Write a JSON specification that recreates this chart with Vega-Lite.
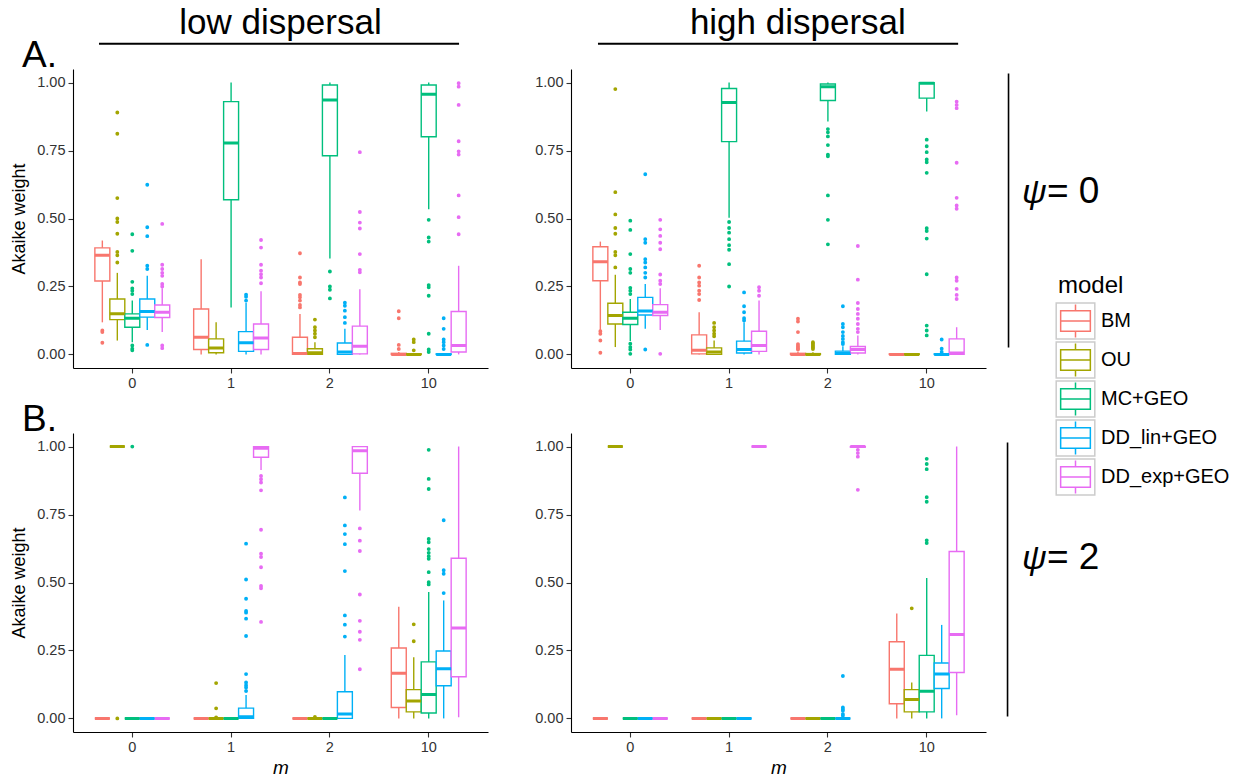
{
"$schema": "https://vega.github.io/schema/vega-lite/v6.json",
"autosize": {"type": "none"},
"padding": {"left": 73, "top": 69, "right": 1172, "bottom": 713},
"background": "white",
"bounds": "flush",
"columns": 2,
"spacing": {"row": 65, "column": 83},
"config": {
  "view": {"stroke": null},
  "font": "Liberation Sans",
  "axis": {"grid": false, "domainColor": "black", "domainWidth": 1.1, "tickColor": "#333333", "tickWidth": 1.1, "tickSize": 5, "labelFont": "Liberation Sans", "labelFontSize": 14.5, "labelColor": "#333333", "labelPadding": 3, "titleFont": "Liberation Sans", "titleFontSize": 18, "titleFontWeight": "normal", "titleColor": "black"},
  "axisX": {"titleFontStyle": "italic", "titleFontSize": 19, "titlePadding": 5, "labelAngle": 0},
  "axisY": {"titlePadding": 8},
  "text": {"font": "Liberation Sans", "color": "black"}
},
"datasets": {
"boxes": [
{"p":"TL","m":"0","model":"BM","lo":0.118,"q1":0.27,"med":0.365,"q3":0.392,"hi":0.419},
{"p":"TL","m":"0","model":"OU","lo":0.051,"q1":0.128,"med":0.15,"q3":0.204,"hi":0.3},
{"p":"TL","m":"0","model":"MC+GEO","lo":0.045,"q1":0.1,"med":0.133,"q3":0.149,"hi":0.198},
{"p":"TL","m":"0","model":"DD_lin+GEO","lo":0.09,"q1":0.137,"med":0.158,"q3":0.204,"hi":0.289},
{"p":"TL","m":"0","model":"DD_exp+GEO","lo":0.082,"q1":0.136,"med":0.155,"q3":0.182,"hi":0.243},
{"p":"TL","m":"1","model":"BM","lo":0,"q1":0.018,"med":0.063,"q3":0.167,"hi":0.35},
{"p":"TL","m":"1","model":"OU","lo":0,"q1":0.006,"med":0.024,"q3":0.057,"hi":0.118},
{"p":"TL","m":"1","model":"MC+GEO","lo":0.173,"q1":0.569,"med":0.778,"q3":0.93,"hi":1.0},
{"p":"TL","m":"1","model":"DD_lin+GEO","lo":0,"q1":0.011,"med":0.043,"q3":0.084,"hi":0.19},
{"p":"TL","m":"1","model":"DD_exp+GEO","lo":0,"q1":0.018,"med":0.06,"q3":0.112,"hi":0.232},
{"p":"TL","m":"2","model":"BM","lo":0,"q1":0,"med":0.003,"q3":0.063,"hi":0.149},
{"p":"TL","m":"2","model":"OU","lo":0,"q1":0,"med":0.006,"q3":0.021,"hi":0.045},
{"p":"TL","m":"2","model":"MC+GEO","lo":0.353,"q1":0.731,"med":0.936,"q3":0.991,"hi":1.0},
{"p":"TL","m":"2","model":"DD_lin+GEO","lo":0,"q1":0,"med":0.009,"q3":0.042,"hi":0.094},
{"p":"TL","m":"2","model":"DD_exp+GEO","lo":0,"q1":0.002,"med":0.03,"q3":0.104,"hi":0.24},
{"p":"TL","m":"10","model":"BM","lo":0,"q1":0,"med":0,"q3":0.004,"hi":0.009},
{"p":"TL","m":"10","model":"OU","lo":0,"q1":0,"med":0,"q3":0.002,"hi":0.004},
{"p":"TL","m":"10","model":"MC+GEO","lo":0.534,"q1":0.801,"med":0.957,"q3":0.991,"hi":1.0},
{"p":"TL","m":"10","model":"DD_lin+GEO","lo":0,"q1":0,"med":0,"q3":0.002,"hi":0.005},
{"p":"TL","m":"10","model":"DD_exp+GEO","lo":0,"q1":0.009,"med":0.033,"q3":0.158,"hi":0.326},
{"p":"TR","m":"0","model":"BM","lo":0.088,"q1":0.271,"med":0.341,"q3":0.396,"hi":0.415},
{"p":"TR","m":"0","model":"OU","lo":0.027,"q1":0.112,"med":0.143,"q3":0.188,"hi":0.293},
{"p":"TR","m":"0","model":"MC+GEO","lo":0.049,"q1":0.11,"med":0.133,"q3":0.155,"hi":0.204},
{"p":"TR","m":"0","model":"DD_lin+GEO","lo":0.094,"q1":0.145,"med":0.16,"q3":0.21,"hi":0.259},
{"p":"TR","m":"0","model":"DD_exp+GEO","lo":0.09,"q1":0.143,"med":0.155,"q3":0.183,"hi":0.243},
{"p":"TR","m":"1","model":"BM","lo":0,"q1":0.002,"med":0.015,"q3":0.072,"hi":0.155},
{"p":"TR","m":"1","model":"OU","lo":0,"q1":0,"med":0.009,"q3":0.024,"hi":0.051},
{"p":"TR","m":"1","model":"MC+GEO","lo":0.503,"q1":0.783,"med":0.927,"q3":0.978,"hi":1.0},
{"p":"TR","m":"1","model":"DD_lin+GEO","lo":0,"q1":0.005,"med":0.018,"q3":0.049,"hi":0.118},
{"p":"TR","m":"1","model":"DD_exp+GEO","lo":0,"q1":0.011,"med":0.033,"q3":0.085,"hi":0.198},
{"p":"TR","m":"2","model":"BM","lo":0,"q1":0,"med":0,"q3":0.004,"hi":0.01},
{"p":"TR","m":"2","model":"OU","lo":0,"q1":0,"med":0,"q3":0.003,"hi":0.008},
{"p":"TR","m":"2","model":"MC+GEO","lo":0.857,"q1":0.934,"med":0.985,"q3":0.995,"hi":1.0},
{"p":"TR","m":"2","model":"DD_lin+GEO","lo":0,"q1":0,"med":0.004,"q3":0.012,"hi":0.03},
{"p":"TR","m":"2","model":"DD_exp+GEO","lo":0,"q1":0.005,"med":0.018,"q3":0.029,"hi":0.07},
{"p":"TR","m":"10","model":"BM","lo":0,"q1":0,"med":0,"q3":0.002,"hi":0.004},
{"p":"TR","m":"10","model":"OU","lo":0,"q1":0,"med":0,"q3":0.002,"hi":0.004},
{"p":"TR","m":"10","model":"MC+GEO","lo":0.894,"q1":0.943,"med":0.998,"q3":1.0,"hi":1.0},
{"p":"TR","m":"10","model":"DD_lin+GEO","lo":0,"q1":0,"med":0,"q3":0.002,"hi":0.004},
{"p":"TR","m":"10","model":"DD_exp+GEO","lo":0,"q1":0,"med":0.005,"q3":0.057,"hi":0.1},
{"p":"BL","m":"0","model":"BM","lo":0,"q1":0,"med":0,"q3":0,"hi":0},
{"p":"BL","m":"0","model":"OU","lo":1,"q1":1,"med":1,"q3":1,"hi":1},
{"p":"BL","m":"0","model":"MC+GEO","lo":0,"q1":0,"med":0,"q3":0,"hi":0},
{"p":"BL","m":"0","model":"DD_lin+GEO","lo":0,"q1":0,"med":0,"q3":0,"hi":0},
{"p":"BL","m":"0","model":"DD_exp+GEO","lo":0,"q1":0,"med":0,"q3":0,"hi":0},
{"p":"BL","m":"1","model":"BM","lo":0,"q1":0,"med":0,"q3":0,"hi":0},
{"p":"BL","m":"1","model":"OU","lo":0,"q1":0,"med":0,"q3":0,"hi":0},
{"p":"BL","m":"1","model":"MC+GEO","lo":0,"q1":0,"med":0,"q3":0,"hi":0},
{"p":"BL","m":"1","model":"DD_lin+GEO","lo":0,"q1":0,"med":0.006,"q3":0.038,"hi":0.086},
{"p":"BL","m":"1","model":"DD_exp+GEO","lo":0.914,"q1":0.961,"med":0.994,"q3":1.0,"hi":1.0},
{"p":"BL","m":"2","model":"BM","lo":0,"q1":0,"med":0,"q3":0,"hi":0},
{"p":"BL","m":"2","model":"OU","lo":0,"q1":0,"med":0,"q3":0,"hi":0},
{"p":"BL","m":"2","model":"MC+GEO","lo":0,"q1":0,"med":0,"q3":0,"hi":0},
{"p":"BL","m":"2","model":"DD_lin+GEO","lo":0,"q1":0,"med":0.016,"q3":0.098,"hi":0.233},
{"p":"BL","m":"2","model":"DD_exp+GEO","lo":0.765,"q1":0.902,"med":0.985,"q3":1.0,"hi":1.0},
{"p":"BL","m":"10","model":"BM","lo":0,"q1":0.04,"med":0.166,"q3":0.259,"hi":0.411},
{"p":"BL","m":"10","model":"OU","lo":0,"q1":0.024,"med":0.064,"q3":0.106,"hi":0.225},
{"p":"BL","m":"10","model":"MC+GEO","lo":0,"q1":0.02,"med":0.088,"q3":0.208,"hi":0.465},
{"p":"BL","m":"10","model":"DD_lin+GEO","lo":0,"q1":0.12,"med":0.183,"q3":0.248,"hi":0.434},
{"p":"BL","m":"10","model":"DD_exp+GEO","lo":0.004,"q1":0.153,"med":0.333,"q3":0.589,"hi":1.0},
{"p":"BR","m":"0","model":"BM","lo":0,"q1":0,"med":0,"q3":0,"hi":0},
{"p":"BR","m":"0","model":"OU","lo":1,"q1":1,"med":1,"q3":1,"hi":1},
{"p":"BR","m":"0","model":"MC+GEO","lo":0,"q1":0,"med":0,"q3":0,"hi":0},
{"p":"BR","m":"0","model":"DD_lin+GEO","lo":0,"q1":0,"med":0,"q3":0,"hi":0},
{"p":"BR","m":"0","model":"DD_exp+GEO","lo":0,"q1":0,"med":0,"q3":0,"hi":0},
{"p":"BR","m":"1","model":"BM","lo":0,"q1":0,"med":0,"q3":0,"hi":0},
{"p":"BR","m":"1","model":"OU","lo":0,"q1":0,"med":0,"q3":0,"hi":0},
{"p":"BR","m":"1","model":"MC+GEO","lo":0,"q1":0,"med":0,"q3":0,"hi":0},
{"p":"BR","m":"1","model":"DD_lin+GEO","lo":0,"q1":0,"med":0,"q3":0,"hi":0},
{"p":"BR","m":"1","model":"DD_exp+GEO","lo":1,"q1":1,"med":1,"q3":1,"hi":1},
{"p":"BR","m":"2","model":"BM","lo":0,"q1":0,"med":0,"q3":0,"hi":0},
{"p":"BR","m":"2","model":"OU","lo":0,"q1":0,"med":0,"q3":0,"hi":0},
{"p":"BR","m":"2","model":"MC+GEO","lo":0,"q1":0,"med":0,"q3":0,"hi":0},
{"p":"BR","m":"2","model":"DD_lin+GEO","lo":0,"q1":0,"med":0,"q3":0,"hi":0.004},
{"p":"BR","m":"2","model":"DD_exp+GEO","lo":0.996,"q1":0.998,"med":1.0,"q3":1.0,"hi":1.0},
{"p":"BR","m":"10","model":"BM","lo":0,"q1":0.054,"med":0.181,"q3":0.282,"hi":0.386},
{"p":"BR","m":"10","model":"OU","lo":0,"q1":0.024,"med":0.07,"q3":0.106,"hi":0.132},
{"p":"BR","m":"10","model":"MC+GEO","lo":0,"q1":0.024,"med":0.1,"q3":0.232,"hi":0.517},
{"p":"BR","m":"10","model":"DD_lin+GEO","lo":0,"q1":0.11,"med":0.163,"q3":0.204,"hi":0.344},
{"p":"BR","m":"10","model":"DD_exp+GEO","lo":0.012,"q1":0.169,"med":0.309,"q3":0.614,"hi":1.0}
],
"outliers": [
{"p":"TL","m":"0","model":"BM","w":0.088},{"p":"TL","m":"0","model":"BM","w":0.082},{"p":"TL","m":"0","model":"BM","w":0.043},
{"p":"TL","m":"0","model":"OU","w":0.89},{"p":"TL","m":"0","model":"OU","w":0.812},{"p":"TL","m":"0","model":"OU","w":0.575},{"p":"TL","m":"0","model":"OU","w":0.5},{"p":"TL","m":"0","model":"OU","w":0.487},{"p":"TL","m":"0","model":"OU","w":0.444},{"p":"TL","m":"0","model":"OU","w":0.377},{"p":"TL","m":"0","model":"OU","w":0.365},{"p":"TL","m":"0","model":"OU","w":0.338},
{"p":"TL","m":"0","model":"MC+GEO","w":0.442},{"p":"TL","m":"0","model":"MC+GEO","w":0.381},{"p":"TL","m":"0","model":"MC+GEO","w":0.267},{"p":"TL","m":"0","model":"MC+GEO","w":0.243},{"p":"TL","m":"0","model":"MC+GEO","w":0.234},{"p":"TL","m":"0","model":"MC+GEO","w":0.222},{"p":"TL","m":"0","model":"MC+GEO","w":0.033},{"p":"TL","m":"0","model":"MC+GEO","w":0.021},{"p":"TL","m":"0","model":"MC+GEO","w":0.015},
{"p":"TL","m":"0","model":"DD_lin+GEO","w":0.624},{"p":"TL","m":"0","model":"DD_lin+GEO","w":0.468},{"p":"TL","m":"0","model":"DD_lin+GEO","w":0.435},{"p":"TL","m":"0","model":"DD_lin+GEO","w":0.326},{"p":"TL","m":"0","model":"DD_lin+GEO","w":0.314},{"p":"TL","m":"0","model":"DD_lin+GEO","w":0.035},
{"p":"TL","m":"0","model":"DD_exp+GEO","w":0.48},{"p":"TL","m":"0","model":"DD_exp+GEO","w":0.33},{"p":"TL","m":"0","model":"DD_exp+GEO","w":0.314},{"p":"TL","m":"0","model":"DD_exp+GEO","w":0.3},{"p":"TL","m":"0","model":"DD_exp+GEO","w":0.289},{"p":"TL","m":"0","model":"DD_exp+GEO","w":0.259},{"p":"TL","m":"0","model":"DD_exp+GEO","w":0.25},{"p":"TL","m":"0","model":"DD_exp+GEO","w":0.033},{"p":"TL","m":"0","model":"DD_exp+GEO","w":0.023},
{"p":"TL","m":"1","model":"DD_lin+GEO","w":0.22},{"p":"TL","m":"1","model":"DD_lin+GEO","w":0.212},{"p":"TL","m":"1","model":"DD_lin+GEO","w":0.198},
{"p":"TL","m":"1","model":"DD_exp+GEO","w":0.421},{"p":"TL","m":"1","model":"DD_exp+GEO","w":0.393},{"p":"TL","m":"1","model":"DD_exp+GEO","w":0.33},{"p":"TL","m":"1","model":"DD_exp+GEO","w":0.308},{"p":"TL","m":"1","model":"DD_exp+GEO","w":0.295},{"p":"TL","m":"1","model":"DD_exp+GEO","w":0.283},{"p":"TL","m":"1","model":"DD_exp+GEO","w":0.262},
{"p":"TL","m":"2","model":"BM","w":0.372},{"p":"TL","m":"2","model":"BM","w":0.283},{"p":"TL","m":"2","model":"BM","w":0.265},{"p":"TL","m":"2","model":"BM","w":0.259},{"p":"TL","m":"2","model":"BM","w":0.219},{"p":"TL","m":"2","model":"BM","w":0.21},{"p":"TL","m":"2","model":"BM","w":0.198},{"p":"TL","m":"2","model":"BM","w":0.182},{"p":"TL","m":"2","model":"BM","w":0.173},
{"p":"TL","m":"2","model":"OU","w":0.128},{"p":"TL","m":"2","model":"OU","w":0.1},{"p":"TL","m":"2","model":"OU","w":0.088},{"p":"TL","m":"2","model":"OU","w":0.076},{"p":"TL","m":"2","model":"OU","w":0.063},
{"p":"TL","m":"2","model":"MC+GEO","w":0.305},{"p":"TL","m":"2","model":"MC+GEO","w":0.25},{"p":"TL","m":"2","model":"MC+GEO","w":0.238},{"p":"TL","m":"2","model":"MC+GEO","w":0.206},
{"p":"TL","m":"2","model":"DD_lin+GEO","w":0.19},{"p":"TL","m":"2","model":"DD_lin+GEO","w":0.179},{"p":"TL","m":"2","model":"DD_lin+GEO","w":0.161},{"p":"TL","m":"2","model":"DD_lin+GEO","w":0.137},{"p":"TL","m":"2","model":"DD_lin+GEO","w":0.116},
{"p":"TL","m":"2","model":"DD_exp+GEO","w":0.744},{"p":"TL","m":"2","model":"DD_exp+GEO","w":0.524},{"p":"TL","m":"2","model":"DD_exp+GEO","w":0.485},{"p":"TL","m":"2","model":"DD_exp+GEO","w":0.463},{"p":"TL","m":"2","model":"DD_exp+GEO","w":0.369},{"p":"TL","m":"2","model":"DD_exp+GEO","w":0.311},{"p":"TL","m":"2","model":"DD_exp+GEO","w":0.302},
{"p":"TL","m":"10","model":"BM","w":0.159},{"p":"TL","m":"10","model":"BM","w":0.133},{"p":"TL","m":"10","model":"BM","w":0.035},{"p":"TL","m":"10","model":"BM","w":0.02},
{"p":"TL","m":"10","model":"OU","w":0.055},{"p":"TL","m":"10","model":"OU","w":0.045},{"p":"TL","m":"10","model":"OU","w":0.015},
{"p":"TL","m":"10","model":"MC+GEO","w":0.495},{"p":"TL","m":"10","model":"MC+GEO","w":0.43},{"p":"TL","m":"10","model":"MC+GEO","w":0.415},{"p":"TL","m":"10","model":"MC+GEO","w":0.255},{"p":"TL","m":"10","model":"MC+GEO","w":0.247},{"p":"TL","m":"10","model":"MC+GEO","w":0.216},{"p":"TL","m":"10","model":"MC+GEO","w":0.076},{"p":"TL","m":"10","model":"MC+GEO","w":0.018},{"p":"TL","m":"10","model":"MC+GEO","w":0.009},
{"p":"TL","m":"10","model":"DD_lin+GEO","w":0.133},{"p":"TL","m":"10","model":"DD_lin+GEO","w":0.094},{"p":"TL","m":"10","model":"DD_lin+GEO","w":0.055},{"p":"TL","m":"10","model":"DD_lin+GEO","w":0.045},{"p":"TL","m":"10","model":"DD_lin+GEO","w":0.033},{"p":"TL","m":"10","model":"DD_lin+GEO","w":0.02},
{"p":"TL","m":"10","model":"DD_exp+GEO","w":0.998},{"p":"TL","m":"10","model":"DD_exp+GEO","w":0.985},{"p":"TL","m":"10","model":"DD_exp+GEO","w":0.918},{"p":"TL","m":"10","model":"DD_exp+GEO","w":0.784},{"p":"TL","m":"10","model":"DD_exp+GEO","w":0.747},{"p":"TL","m":"10","model":"DD_exp+GEO","w":0.735},{"p":"TL","m":"10","model":"DD_exp+GEO","w":0.585},{"p":"TL","m":"10","model":"DD_exp+GEO","w":0.505},{"p":"TL","m":"10","model":"DD_exp+GEO","w":0.442},
{"p":"TR","m":"0","model":"BM","w":0.085},{"p":"TR","m":"0","model":"BM","w":0.076},{"p":"TR","m":"0","model":"BM","w":0.051},{"p":"TR","m":"0","model":"BM","w":0.006},
{"p":"TR","m":"0","model":"OU","w":0.976},{"p":"TR","m":"0","model":"OU","w":0.597},{"p":"TR","m":"0","model":"OU","w":0.515},{"p":"TR","m":"0","model":"OU","w":0.465},{"p":"TR","m":"0","model":"OU","w":0.444},{"p":"TR","m":"0","model":"OU","w":0.377},{"p":"TR","m":"0","model":"OU","w":0.365},{"p":"TR","m":"0","model":"OU","w":0.32},
{"p":"TR","m":"0","model":"MC+GEO","w":0.492},{"p":"TR","m":"0","model":"MC+GEO","w":0.458},{"p":"TR","m":"0","model":"MC+GEO","w":0.369},{"p":"TR","m":"0","model":"MC+GEO","w":0.314},{"p":"TR","m":"0","model":"MC+GEO","w":0.3},{"p":"TR","m":"0","model":"MC+GEO","w":0.245},{"p":"TR","m":"0","model":"MC+GEO","w":0.234},{"p":"TR","m":"0","model":"MC+GEO","w":0.222},{"p":"TR","m":"0","model":"MC+GEO","w":0.039},{"p":"TR","m":"0","model":"MC+GEO","w":0.027},{"p":"TR","m":"0","model":"MC+GEO","w":0.018},{"p":"TR","m":"0","model":"MC+GEO","w":0.002},
{"p":"TR","m":"0","model":"DD_lin+GEO","w":0.663},{"p":"TR","m":"0","model":"DD_lin+GEO","w":0.424},{"p":"TR","m":"0","model":"DD_lin+GEO","w":0.411},{"p":"TR","m":"0","model":"DD_lin+GEO","w":0.35},{"p":"TR","m":"0","model":"DD_lin+GEO","w":0.338},{"p":"TR","m":"0","model":"DD_lin+GEO","w":0.32},{"p":"TR","m":"0","model":"DD_lin+GEO","w":0.3},{"p":"TR","m":"0","model":"DD_lin+GEO","w":0.283},{"p":"TR","m":"0","model":"DD_lin+GEO","w":0.018},
{"p":"TR","m":"0","model":"DD_exp+GEO","w":0.495},{"p":"TR","m":"0","model":"DD_exp+GEO","w":0.46},{"p":"TR","m":"0","model":"DD_exp+GEO","w":0.436},{"p":"TR","m":"0","model":"DD_exp+GEO","w":0.411},{"p":"TR","m":"0","model":"DD_exp+GEO","w":0.387},{"p":"TR","m":"0","model":"DD_exp+GEO","w":0.294},{"p":"TR","m":"0","model":"DD_exp+GEO","w":0.271},{"p":"TR","m":"0","model":"DD_exp+GEO","w":0.259},{"p":"TR","m":"0","model":"DD_exp+GEO","w":0.002},
{"p":"TR","m":"1","model":"BM","w":0.326},{"p":"TR","m":"1","model":"BM","w":0.283},{"p":"TR","m":"1","model":"BM","w":0.265},{"p":"TR","m":"1","model":"BM","w":0.253},{"p":"TR","m":"1","model":"BM","w":0.234},{"p":"TR","m":"1","model":"BM","w":0.222},{"p":"TR","m":"1","model":"BM","w":0.2},
{"p":"TR","m":"1","model":"OU","w":0.116},{"p":"TR","m":"1","model":"OU","w":0.1},{"p":"TR","m":"1","model":"OU","w":0.088},{"p":"TR","m":"1","model":"OU","w":0.076},{"p":"TR","m":"1","model":"OU","w":0.067},
{"p":"TR","m":"1","model":"MC+GEO","w":0.487},{"p":"TR","m":"1","model":"MC+GEO","w":0.465},{"p":"TR","m":"1","model":"MC+GEO","w":0.448},{"p":"TR","m":"1","model":"MC+GEO","w":0.424},{"p":"TR","m":"1","model":"MC+GEO","w":0.402},{"p":"TR","m":"1","model":"MC+GEO","w":0.385},{"p":"TR","m":"1","model":"MC+GEO","w":0.332},{"p":"TR","m":"1","model":"MC+GEO","w":0.25},
{"p":"TR","m":"1","model":"DD_lin+GEO","w":0.228},{"p":"TR","m":"1","model":"DD_lin+GEO","w":0.177},{"p":"TR","m":"1","model":"DD_lin+GEO","w":0.155},{"p":"TR","m":"1","model":"DD_lin+GEO","w":0.133},{"p":"TR","m":"1","model":"DD_lin+GEO","w":0.125},
{"p":"TR","m":"1","model":"DD_exp+GEO","w":0.247},{"p":"TR","m":"1","model":"DD_exp+GEO","w":0.234},{"p":"TR","m":"1","model":"DD_exp+GEO","w":0.216},
{"p":"TR","m":"2","model":"BM","w":0.131},{"p":"TR","m":"2","model":"BM","w":0.121},{"p":"TR","m":"2","model":"BM","w":0.082},{"p":"TR","m":"2","model":"BM","w":0.038},{"p":"TR","m":"2","model":"BM","w":0.032},{"p":"TR","m":"2","model":"BM","w":0.027},{"p":"TR","m":"2","model":"BM","w":0.022},{"p":"TR","m":"2","model":"BM","w":0.018},
{"p":"TR","m":"2","model":"OU","w":0.045},{"p":"TR","m":"2","model":"OU","w":0.04},{"p":"TR","m":"2","model":"OU","w":0.035},{"p":"TR","m":"2","model":"OU","w":0.03},{"p":"TR","m":"2","model":"OU","w":0.025},{"p":"TR","m":"2","model":"OU","w":0.02},
{"p":"TR","m":"2","model":"MC+GEO","w":0.829},{"p":"TR","m":"2","model":"MC+GEO","w":0.817},{"p":"TR","m":"2","model":"MC+GEO","w":0.802},{"p":"TR","m":"2","model":"MC+GEO","w":0.77},{"p":"TR","m":"2","model":"MC+GEO","w":0.735},{"p":"TR","m":"2","model":"MC+GEO","w":0.729},{"p":"TR","m":"2","model":"MC+GEO","w":0.585},{"p":"TR","m":"2","model":"MC+GEO","w":0.495},{"p":"TR","m":"2","model":"MC+GEO","w":0.405},
{"p":"TR","m":"2","model":"DD_lin+GEO","w":0.177},{"p":"TR","m":"2","model":"DD_lin+GEO","w":0.112},{"p":"TR","m":"2","model":"DD_lin+GEO","w":0.1},{"p":"TR","m":"2","model":"DD_lin+GEO","w":0.082},{"p":"TR","m":"2","model":"DD_lin+GEO","w":0.068},{"p":"TR","m":"2","model":"DD_lin+GEO","w":0.057},{"p":"TR","m":"2","model":"DD_lin+GEO","w":0.045},{"p":"TR","m":"2","model":"DD_lin+GEO","w":0.038},
{"p":"TR","m":"2","model":"DD_exp+GEO","w":0.399},{"p":"TR","m":"2","model":"DD_exp+GEO","w":0.275},{"p":"TR","m":"2","model":"DD_exp+GEO","w":0.189},{"p":"TR","m":"2","model":"DD_exp+GEO","w":0.167},{"p":"TR","m":"2","model":"DD_exp+GEO","w":0.149},{"p":"TR","m":"2","model":"DD_exp+GEO","w":0.131},{"p":"TR","m":"2","model":"DD_exp+GEO","w":0.112},{"p":"TR","m":"2","model":"DD_exp+GEO","w":0.094},{"p":"TR","m":"2","model":"DD_exp+GEO","w":0.082},
{"p":"TR","m":"10","model":"MC+GEO","w":0.79},{"p":"TR","m":"10","model":"MC+GEO","w":0.766},{"p":"TR","m":"10","model":"MC+GEO","w":0.744},{"p":"TR","m":"10","model":"MC+GEO","w":0.717},{"p":"TR","m":"10","model":"MC+GEO","w":0.707},{"p":"TR","m":"10","model":"MC+GEO","w":0.668},{"p":"TR","m":"10","model":"MC+GEO","w":0.464},{"p":"TR","m":"10","model":"MC+GEO","w":0.454},{"p":"TR","m":"10","model":"MC+GEO","w":0.426},{"p":"TR","m":"10","model":"MC+GEO","w":0.295},{"p":"TR","m":"10","model":"MC+GEO","w":0.106},{"p":"TR","m":"10","model":"MC+GEO","w":0.088},{"p":"TR","m":"10","model":"MC+GEO","w":0.07},
{"p":"TR","m":"10","model":"DD_lin+GEO","w":0.055},{"p":"TR","m":"10","model":"DD_lin+GEO","w":0.021},{"p":"TR","m":"10","model":"DD_lin+GEO","w":0.009},
{"p":"TR","m":"10","model":"DD_exp+GEO","w":0.93},{"p":"TR","m":"10","model":"DD_exp+GEO","w":0.918},{"p":"TR","m":"10","model":"DD_exp+GEO","w":0.906},{"p":"TR","m":"10","model":"DD_exp+GEO","w":0.705},{"p":"TR","m":"10","model":"DD_exp+GEO","w":0.576},{"p":"TR","m":"10","model":"DD_exp+GEO","w":0.548},{"p":"TR","m":"10","model":"DD_exp+GEO","w":0.536},{"p":"TR","m":"10","model":"DD_exp+GEO","w":0.283},{"p":"TR","m":"10","model":"DD_exp+GEO","w":0.271},{"p":"TR","m":"10","model":"DD_exp+GEO","w":0.241},{"p":"TR","m":"10","model":"DD_exp+GEO","w":0.219},{"p":"TR","m":"10","model":"DD_exp+GEO","w":0.204},
{"p":"BL","m":"0","model":"OU","w":0},
{"p":"BL","m":"0","model":"MC+GEO","w":1},
{"p":"BL","m":"1","model":"OU","w":0.13},{"p":"BL","m":"1","model":"OU","w":0.037},{"p":"BL","m":"1","model":"OU","w":0.004},
{"p":"BL","m":"1","model":"DD_lin+GEO","w":0.643},{"p":"BL","m":"1","model":"DD_lin+GEO","w":0.511},{"p":"BL","m":"1","model":"DD_lin+GEO","w":0.44},{"p":"BL","m":"1","model":"DD_lin+GEO","w":0.395},{"p":"BL","m":"1","model":"DD_lin+GEO","w":0.389},{"p":"BL","m":"1","model":"DD_lin+GEO","w":0.367},{"p":"BL","m":"1","model":"DD_lin+GEO","w":0.303},{"p":"BL","m":"1","model":"DD_lin+GEO","w":0.163},{"p":"BL","m":"1","model":"DD_lin+GEO","w":0.132},{"p":"BL","m":"1","model":"DD_lin+GEO","w":0.122},{"p":"BL","m":"1","model":"DD_lin+GEO","w":0.114},{"p":"BL","m":"1","model":"DD_lin+GEO","w":0.101},
{"p":"BL","m":"1","model":"DD_exp+GEO","w":0.892},{"p":"BL","m":"1","model":"DD_exp+GEO","w":0.88},{"p":"BL","m":"1","model":"DD_exp+GEO","w":0.868},{"p":"BL","m":"1","model":"DD_exp+GEO","w":0.839},{"p":"BL","m":"1","model":"DD_exp+GEO","w":0.694},{"p":"BL","m":"1","model":"DD_exp+GEO","w":0.606},{"p":"BL","m":"1","model":"DD_exp+GEO","w":0.594},{"p":"BL","m":"1","model":"DD_exp+GEO","w":0.556},{"p":"BL","m":"1","model":"DD_exp+GEO","w":0.487},{"p":"BL","m":"1","model":"DD_exp+GEO","w":0.479},{"p":"BL","m":"1","model":"DD_exp+GEO","w":0.355},
{"p":"BL","m":"2","model":"OU","w":0.005},
{"p":"BL","m":"2","model":"DD_lin+GEO","w":0.813},{"p":"BL","m":"2","model":"DD_lin+GEO","w":0.71},{"p":"BL","m":"2","model":"DD_lin+GEO","w":0.678},{"p":"BL","m":"2","model":"DD_lin+GEO","w":0.641},{"p":"BL","m":"2","model":"DD_lin+GEO","w":0.542},{"p":"BL","m":"2","model":"DD_lin+GEO","w":0.379},{"p":"BL","m":"2","model":"DD_lin+GEO","w":0.345},{"p":"BL","m":"2","model":"DD_lin+GEO","w":0.301},
{"p":"BL","m":"2","model":"DD_exp+GEO","w":0.699},{"p":"BL","m":"2","model":"DD_exp+GEO","w":0.654},{"p":"BL","m":"2","model":"DD_exp+GEO","w":0.616},{"p":"BL","m":"2","model":"DD_exp+GEO","w":0.456},{"p":"BL","m":"2","model":"DD_exp+GEO","w":0.359},{"p":"BL","m":"2","model":"DD_exp+GEO","w":0.319},{"p":"BL","m":"2","model":"DD_exp+GEO","w":0.289},{"p":"BL","m":"2","model":"DD_exp+GEO","w":0.181},
{"p":"BL","m":"10","model":"OU","w":0.346},{"p":"BL","m":"10","model":"OU","w":0.284},
{"p":"BL","m":"10","model":"MC+GEO","w":0.988},{"p":"BL","m":"10","model":"MC+GEO","w":0.881},{"p":"BL","m":"10","model":"MC+GEO","w":0.844},{"p":"BL","m":"10","model":"MC+GEO","w":0.66},{"p":"BL","m":"10","model":"MC+GEO","w":0.648},{"p":"BL","m":"10","model":"MC+GEO","w":0.623},{"p":"BL","m":"10","model":"MC+GEO","w":0.609},{"p":"BL","m":"10","model":"MC+GEO","w":0.597},{"p":"BL","m":"10","model":"MC+GEO","w":0.587},{"p":"BL","m":"10","model":"MC+GEO","w":0.538},{"p":"BL","m":"10","model":"MC+GEO","w":0.501},{"p":"BL","m":"10","model":"MC+GEO","w":0.493},
{"p":"BL","m":"10","model":"DD_lin+GEO","w":0.729},{"p":"BL","m":"10","model":"DD_lin+GEO","w":0.545},{"p":"BL","m":"10","model":"DD_lin+GEO","w":0.532},{"p":"BL","m":"10","model":"DD_lin+GEO","w":0.461},
{"p":"BR","m":"2","model":"DD_lin+GEO","w":0.156},{"p":"BR","m":"2","model":"DD_lin+GEO","w":0.04},{"p":"BR","m":"2","model":"DD_lin+GEO","w":0.034},{"p":"BR","m":"2","model":"DD_lin+GEO","w":0.028},{"p":"BR","m":"2","model":"DD_lin+GEO","w":0.016},{"p":"BR","m":"2","model":"DD_lin+GEO","w":0.01},
{"p":"BR","m":"2","model":"DD_exp+GEO","w":0.988},{"p":"BR","m":"2","model":"DD_exp+GEO","w":0.976},{"p":"BR","m":"2","model":"DD_exp+GEO","w":0.963},{"p":"BR","m":"2","model":"DD_exp+GEO","w":0.841},
{"p":"BR","m":"10","model":"OU","w":0.405},
{"p":"BR","m":"10","model":"MC+GEO","w":0.955},{"p":"BR","m":"10","model":"MC+GEO","w":0.936},{"p":"BR","m":"10","model":"MC+GEO","w":0.917},{"p":"BR","m":"10","model":"MC+GEO","w":0.814},{"p":"BR","m":"10","model":"MC+GEO","w":0.797},{"p":"BR","m":"10","model":"MC+GEO","w":0.655},{"p":"BR","m":"10","model":"MC+GEO","w":0.645}
]
},
"concat": [
{
 "width": 415, "height": 299,
 "layer": [
  {"data": {"name": "outliers"}, "transform": [{"filter": "datum.p === 'TL'"}],
   "mark": {"type": "point", "filled": false, "size": 3.5, "strokeWidth": 2, "opacity": 1},
   "encoding": {
    "x": {"field": "m", "type": "nominal", "scale": {"domain": ["0","1","2","10"], "paddingInner": 0, "paddingOuter": 0.1}, "axis": {"title": null}},
    "xOffset": {"field": "model", "type": "nominal", "scale": {"domain": ["BM","OU","MC+GEO","DD_lin+GEO","DD_exp+GEO"], "paddingInner": 0, "paddingOuter": 0.8}},
    "y": {"field": "w", "type": "quantitative", "scale": {"domain": [-0.05, 1.05], "nice": false, "zero": false}, "axis": {"title": "Akaike weight", "values": [0, 0.25, 0.5, 0.75, 1], "format": ".2f"}},
    "stroke": {"field": "model", "type": "nominal", "scale": {"domain": ["BM","OU","MC+GEO","DD_lin+GEO","DD_exp+GEO"], "range": ["#F8766D","#A3A500","#00BF7D","#00B0F6","#E76BF3"]}}}},
  {"data": {"name": "boxes"}, "transform": [{"filter": "datum.p === 'TL'"}],
   "mark": {"type": "rule", "strokeWidth": 1.4},
   "encoding": {
    "x": {"field": "m", "type": "nominal", "scale": {"domain": ["0","1","2","10"], "paddingInner": 0, "paddingOuter": 0.1}},
    "xOffset": {"field": "model", "type": "nominal", "scale": {"domain": ["BM","OU","MC+GEO","DD_lin+GEO","DD_exp+GEO"], "paddingInner": 0, "paddingOuter": 0.8}},
    "y": {"field": "lo", "type": "quantitative", "scale": {"domain": [-0.05, 1.05], "nice": false, "zero": false}},
    "y2": {"field": "hi"},
    "stroke": {"field": "model", "type": "nominal", "scale": {"domain": ["BM","OU","MC+GEO","DD_lin+GEO","DD_exp+GEO"], "range": ["#F8766D","#A3A500","#00BF7D","#00B0F6","#E76BF3"]}},
    "opacity": {"field": "model", "type": "ordinal", "sort": ["BM","OU","MC+GEO","DD_lin+GEO","DD_exp+GEO"], "scale": {"type": "point", "range": [1, 1]},
     "legend": {"title": null, "orient": "none", "legendX": 985, "legendY": 234.5, "padding": 0, "symbolType": "M-1.17,-1.097H1.17V1.097H-1.17Z", "symbolSize": 1089, "symbolStrokeColor": "#CCCCCC", "symbolStrokeWidth": 1.5, "symbolFillColor": "transparent", "symbolOpacity": 1, "labelExpr": "''", "rowPadding": -5.3}}}},
  {"data": {"name": "boxes"}, "transform": [{"filter": "datum.p === 'TL'"}],
   "mark": {"type": "bar", "fill": "white", "strokeWidth": 1.4},
   "encoding": {
    "x": {"field": "m", "type": "nominal", "scale": {"domain": ["0","1","2","10"], "paddingInner": 0, "paddingOuter": 0.1}},
    "xOffset": {"field": "model", "type": "nominal", "scale": {"domain": ["BM","OU","MC+GEO","DD_lin+GEO","DD_exp+GEO"], "paddingInner": 0, "paddingOuter": 0.8}},
    "y": {"field": "q1", "type": "quantitative", "scale": {"domain": [-0.05, 1.05], "nice": false, "zero": false}},
    "y2": {"field": "q3"},
    "stroke": {"field": "model", "type": "nominal", "scale": {"domain": ["BM","OU","MC+GEO","DD_lin+GEO","DD_exp+GEO"], "range": ["#F8766D","#A3A500","#00BF7D","#00B0F6","#E76BF3"]},
     "legend": {"title": "model", "orient": "none", "legendX": 985, "legendY": 204.5, "padding": 0, "titleFont": "Liberation Sans", "titleFontSize": 24, "titleFontWeight": "normal", "titleColor": "black", "titlePadding": 6, "labelFont": "Liberation Sans", "labelFontSize": 20, "labelColor": "black", "labelOffset": 8, "symbolType": "M-1.17,-1.097M1.17,1.097M-0.9,-0.62H0.9V0.62H-0.9Z M-0.9,0H0.9 M0,-0.62V-1 M0,0.62V1", "symbolSize": 1089, "symbolStrokeWidth": 1.5, "symbolFillColor": "white", "rowPadding": -5.3}}}},
  {"data": {"name": "boxes"}, "transform": [{"filter": "datum.p === 'TL'"}],
   "mark": {"type": "bar", "fillOpacity": 0, "strokeWidth": 3},
   "encoding": {
    "x": {"field": "m", "type": "nominal", "scale": {"domain": ["0","1","2","10"], "paddingInner": 0, "paddingOuter": 0.1}},
    "xOffset": {"field": "model", "type": "nominal", "scale": {"domain": ["BM","OU","MC+GEO","DD_lin+GEO","DD_exp+GEO"], "paddingInner": 0, "paddingOuter": 0.8}},
    "y": {"field": "med", "type": "quantitative", "scale": {"domain": [-0.05, 1.05], "nice": false, "zero": false}},
    "y2": {"field": "med"},
    "stroke": {"field": "model", "type": "nominal", "scale": {"domain": ["BM","OU","MC+GEO","DD_lin+GEO","DD_exp+GEO"], "range": ["#F8766D","#A3A500","#00BF7D","#00B0F6","#E76BF3"]}}}},
  {"data": {"values": [{"label": "low dispersal"}]},
   "mark": {"type": "text", "fontSize": 35, "align": "center", "baseline": "alphabetic", "color": "black"},
   "encoding": {
    "x": {"datum": "1", "type": "nominal", "bandPosition": 1, "scale": {"domain": ["0","1","2","10"], "paddingInner": 0, "paddingOuter": 0.1}},
    "y": {"datum": 1.177, "type": "quantitative", "scale": {"domain": [-0.05, 1.05], "nice": false, "zero": false}},
    "text": {"field": "label"}}},
  {"data": {"values": [{"label": "low dispersal"}]},
   "mark": {"type": "rule", "strokeWidth": 2, "color": "black"},
   "encoding": {
    "x": {"datum": "0", "type": "nominal", "bandPosition": 0.163, "scale": {"domain": ["0","1","2","10"], "paddingInner": 0, "paddingOuter": 0.1}},
    "x2": {"datum": "10", "bandPosition": 0.807},
    "y": {"datum": 1.143, "type": "quantitative", "scale": {"domain": [-0.05, 1.05], "nice": false, "zero": false}}}},
  {"data": {"values": [{"label": "A."}]},
   "mark": {"type": "text", "fontSize": 37, "align": "left", "baseline": "alphabetic", "color": "black"},
   "encoding": {
    "x": {"datum": "0", "type": "nominal", "bandPosition": -0.616, "scale": {"domain": ["0","1","2","10"], "paddingInner": 0, "paddingOuter": 0.1}},
    "y": {"datum": 1.058, "type": "quantitative", "scale": {"domain": [-0.05, 1.05], "nice": false, "zero": false}},
    "text": {"field": "label"}}}
 ]
},
{
 "width": 415, "height": 299,
 "layer": [
  {"data": {"name": "outliers"}, "transform": [{"filter": "datum.p === 'TR'"}],
   "mark": {"type": "point", "filled": false, "size": 3.5, "strokeWidth": 2, "opacity": 1},
   "encoding": {
    "x": {"field": "m", "type": "nominal", "scale": {"domain": ["0","1","2","10"], "paddingInner": 0, "paddingOuter": 0.1}, "axis": {"title": null}},
    "xOffset": {"field": "model", "type": "nominal", "scale": {"domain": ["BM","OU","MC+GEO","DD_lin+GEO","DD_exp+GEO"], "paddingInner": 0, "paddingOuter": 0.8}},
    "y": {"field": "w", "type": "quantitative", "scale": {"domain": [-0.05, 1.05], "nice": false, "zero": false}, "axis": {"title": null, "values": [0, 0.25, 0.5, 0.75, 1], "format": ".2f"}},
    "stroke": {"field": "model", "type": "nominal", "scale": {"domain": ["BM","OU","MC+GEO","DD_lin+GEO","DD_exp+GEO"], "range": ["#F8766D","#A3A500","#00BF7D","#00B0F6","#E76BF3"]}}}},
  {"data": {"name": "boxes"}, "transform": [{"filter": "datum.p === 'TR'"}],
   "mark": {"type": "rule", "strokeWidth": 1.4},
   "encoding": {
    "x": {"field": "m", "type": "nominal", "scale": {"domain": ["0","1","2","10"], "paddingInner": 0, "paddingOuter": 0.1}},
    "xOffset": {"field": "model", "type": "nominal", "scale": {"domain": ["BM","OU","MC+GEO","DD_lin+GEO","DD_exp+GEO"], "paddingInner": 0, "paddingOuter": 0.8}},
    "y": {"field": "lo", "type": "quantitative", "scale": {"domain": [-0.05, 1.05], "nice": false, "zero": false}},
    "y2": {"field": "hi"},
    "stroke": {"field": "model", "type": "nominal", "scale": {"domain": ["BM","OU","MC+GEO","DD_lin+GEO","DD_exp+GEO"], "range": ["#F8766D","#A3A500","#00BF7D","#00B0F6","#E76BF3"]}}}},
  {"data": {"name": "boxes"}, "transform": [{"filter": "datum.p === 'TR'"}],
   "mark": {"type": "bar", "fill": "white", "strokeWidth": 1.4},
   "encoding": {
    "x": {"field": "m", "type": "nominal", "scale": {"domain": ["0","1","2","10"], "paddingInner": 0, "paddingOuter": 0.1}},
    "xOffset": {"field": "model", "type": "nominal", "scale": {"domain": ["BM","OU","MC+GEO","DD_lin+GEO","DD_exp+GEO"], "paddingInner": 0, "paddingOuter": 0.8}},
    "y": {"field": "q1", "type": "quantitative", "scale": {"domain": [-0.05, 1.05], "nice": false, "zero": false}},
    "y2": {"field": "q3"},
    "stroke": {"field": "model", "type": "nominal", "scale": {"domain": ["BM","OU","MC+GEO","DD_lin+GEO","DD_exp+GEO"], "range": ["#F8766D","#A3A500","#00BF7D","#00B0F6","#E76BF3"]},
     "legend": {"title": "model", "orient": "none", "legendX": 985, "legendY": 204.5, "padding": 0, "titleFont": "Liberation Sans", "titleFontSize": 24, "titleFontWeight": "normal", "titleColor": "black", "titlePadding": 6, "labelFont": "Liberation Sans", "labelFontSize": 20, "labelColor": "black", "labelOffset": 8, "symbolType": "M-1.17,-1.097M1.17,1.097M-0.9,-0.62H0.9V0.62H-0.9Z M-0.9,0H0.9 M0,-0.62V-1 M0,0.62V1", "symbolSize": 1089, "symbolStrokeWidth": 1.5, "symbolFillColor": "white", "rowPadding": -5.3}}}},
  {"data": {"name": "boxes"}, "transform": [{"filter": "datum.p === 'TR'"}],
   "mark": {"type": "bar", "fillOpacity": 0, "strokeWidth": 3},
   "encoding": {
    "x": {"field": "m", "type": "nominal", "scale": {"domain": ["0","1","2","10"], "paddingInner": 0, "paddingOuter": 0.1}},
    "xOffset": {"field": "model", "type": "nominal", "scale": {"domain": ["BM","OU","MC+GEO","DD_lin+GEO","DD_exp+GEO"], "paddingInner": 0, "paddingOuter": 0.8}},
    "y": {"field": "med", "type": "quantitative", "scale": {"domain": [-0.05, 1.05], "nice": false, "zero": false}},
    "y2": {"field": "med"},
    "stroke": {"field": "model", "type": "nominal", "scale": {"domain": ["BM","OU","MC+GEO","DD_lin+GEO","DD_exp+GEO"], "range": ["#F8766D","#A3A500","#00BF7D","#00B0F6","#E76BF3"]}}}},
  {"data": {"values": [{"label": "high dispersal"}]},
   "mark": {"type": "text", "fontSize": 35, "align": "center", "baseline": "alphabetic", "color": "black"},
   "encoding": {
    "x": {"datum": "1", "type": "nominal", "bandPosition": 1.196, "scale": {"domain": ["0","1","2","10"], "paddingInner": 0, "paddingOuter": 0.1}},
    "y": {"datum": 1.177, "type": "quantitative", "scale": {"domain": [-0.05, 1.05], "nice": false, "zero": false}},
    "text": {"field": "label"}}},
  {"data": {"values": [{"label": "high dispersal"}]},
   "mark": {"type": "rule", "strokeWidth": 2, "color": "black"},
   "encoding": {
    "x": {"datum": "0", "type": "nominal", "bandPosition": 0.173, "scale": {"domain": ["0","1","2","10"], "paddingInner": 0, "paddingOuter": 0.1}},
    "x2": {"datum": "10", "bandPosition": 0.818},
    "y": {"datum": 1.143, "type": "quantitative", "scale": {"domain": [-0.05, 1.05], "nice": false, "zero": false}}}},
  {"data": {"values": [{"label": "ψ= 0"}]},
   "mark": {"type": "rule", "strokeWidth": 1.6, "color": "black"},
   "encoding": {
    "x": {"datum": "10", "type": "nominal", "bandPosition": 1.328, "scale": {"domain": ["0","1","2","10"], "paddingInner": 0, "paddingOuter": 0.1}},
    "y": {"datum": 1.033, "type": "quantitative", "scale": {"domain": [-0.05, 1.05], "nice": false, "zero": false}},
    "y2": {"datum": 0.025}}},
  {"data": {"values": [{"label": "ψ"}]},
   "mark": {"type": "text", "fontSize": 34, "fontStyle": "italic", "align": "left", "baseline": "alphabetic", "color": "black"},
   "encoding": {
    "x": {"datum": "10", "type": "nominal", "bandPosition": 1.464, "scale": {"domain": ["0","1","2","10"], "paddingInner": 0, "paddingOuter": 0.1}},
    "y": {"datum": 0.558, "type": "quantitative", "scale": {"domain": [-0.05, 1.05], "nice": false, "zero": false}},
    "text": {"field": "label"}}},
  {"data": {"values": [{"label": "= 0"}]},
   "mark": {"type": "text", "fontSize": 37, "align": "left", "baseline": "alphabetic", "color": "black", "dx": 25},
   "encoding": {
    "x": {"datum": "10", "type": "nominal", "bandPosition": 1.464, "scale": {"domain": ["0","1","2","10"], "paddingInner": 0, "paddingOuter": 0.1}},
    "y": {"datum": 0.558, "type": "quantitative", "scale": {"domain": [-0.05, 1.05], "nice": false, "zero": false}},
    "text": {"field": "label"}}}
 ]
},
{
 "width": 415, "height": 299,
 "layer": [
  {"data": {"name": "outliers"}, "transform": [{"filter": "datum.p === 'BL'"}],
   "mark": {"type": "point", "filled": false, "size": 3.5, "strokeWidth": 2, "opacity": 1},
   "encoding": {
    "x": {"field": "m", "type": "nominal", "scale": {"domain": ["0","1","2","10"], "paddingInner": 0, "paddingOuter": 0.1}, "axis": {"title": "m"}},
    "xOffset": {"field": "model", "type": "nominal", "scale": {"domain": ["BM","OU","MC+GEO","DD_lin+GEO","DD_exp+GEO"], "paddingInner": 0, "paddingOuter": 0.8}},
    "y": {"field": "w", "type": "quantitative", "scale": {"domain": [-0.05, 1.05], "nice": false, "zero": false}, "axis": {"title": "Akaike weight", "values": [0, 0.25, 0.5, 0.75, 1], "format": ".2f"}},
    "stroke": {"field": "model", "type": "nominal", "scale": {"domain": ["BM","OU","MC+GEO","DD_lin+GEO","DD_exp+GEO"], "range": ["#F8766D","#A3A500","#00BF7D","#00B0F6","#E76BF3"]}}}},
  {"data": {"name": "boxes"}, "transform": [{"filter": "datum.p === 'BL'"}],
   "mark": {"type": "rule", "strokeWidth": 1.4},
   "encoding": {
    "x": {"field": "m", "type": "nominal", "scale": {"domain": ["0","1","2","10"], "paddingInner": 0, "paddingOuter": 0.1}},
    "xOffset": {"field": "model", "type": "nominal", "scale": {"domain": ["BM","OU","MC+GEO","DD_lin+GEO","DD_exp+GEO"], "paddingInner": 0, "paddingOuter": 0.8}},
    "y": {"field": "lo", "type": "quantitative", "scale": {"domain": [-0.05, 1.05], "nice": false, "zero": false}},
    "y2": {"field": "hi"},
    "stroke": {"field": "model", "type": "nominal", "scale": {"domain": ["BM","OU","MC+GEO","DD_lin+GEO","DD_exp+GEO"], "range": ["#F8766D","#A3A500","#00BF7D","#00B0F6","#E76BF3"]}}}},
  {"data": {"name": "boxes"}, "transform": [{"filter": "datum.p === 'BL'"}],
   "mark": {"type": "bar", "fill": "white", "strokeWidth": 1.4},
   "encoding": {
    "x": {"field": "m", "type": "nominal", "scale": {"domain": ["0","1","2","10"], "paddingInner": 0, "paddingOuter": 0.1}},
    "xOffset": {"field": "model", "type": "nominal", "scale": {"domain": ["BM","OU","MC+GEO","DD_lin+GEO","DD_exp+GEO"], "paddingInner": 0, "paddingOuter": 0.8}},
    "y": {"field": "q1", "type": "quantitative", "scale": {"domain": [-0.05, 1.05], "nice": false, "zero": false}},
    "y2": {"field": "q3"},
    "stroke": {"field": "model", "type": "nominal", "scale": {"domain": ["BM","OU","MC+GEO","DD_lin+GEO","DD_exp+GEO"], "range": ["#F8766D","#A3A500","#00BF7D","#00B0F6","#E76BF3"]},
     "legend": {"title": "model", "orient": "none", "legendX": 985, "legendY": 204.5, "padding": 0, "titleFont": "Liberation Sans", "titleFontSize": 24, "titleFontWeight": "normal", "titleColor": "black", "titlePadding": 6, "labelFont": "Liberation Sans", "labelFontSize": 20, "labelColor": "black", "labelOffset": 8, "symbolType": "M-1.17,-1.097M1.17,1.097M-0.9,-0.62H0.9V0.62H-0.9Z M-0.9,0H0.9 M0,-0.62V-1 M0,0.62V1", "symbolSize": 1089, "symbolStrokeWidth": 1.5, "symbolFillColor": "white", "rowPadding": -5.3}}}},
  {"data": {"name": "boxes"}, "transform": [{"filter": "datum.p === 'BL'"}],
   "mark": {"type": "bar", "fillOpacity": 0, "strokeWidth": 3},
   "encoding": {
    "x": {"field": "m", "type": "nominal", "scale": {"domain": ["0","1","2","10"], "paddingInner": 0, "paddingOuter": 0.1}},
    "xOffset": {"field": "model", "type": "nominal", "scale": {"domain": ["BM","OU","MC+GEO","DD_lin+GEO","DD_exp+GEO"], "paddingInner": 0, "paddingOuter": 0.8}},
    "y": {"field": "med", "type": "quantitative", "scale": {"domain": [-0.05, 1.05], "nice": false, "zero": false}},
    "y2": {"field": "med"},
    "stroke": {"field": "model", "type": "nominal", "scale": {"domain": ["BM","OU","MC+GEO","DD_lin+GEO","DD_exp+GEO"], "range": ["#F8766D","#A3A500","#00BF7D","#00B0F6","#E76BF3"]}}}},
  {"data": {"values": [{"label": "B."}]},
   "mark": {"type": "text", "fontSize": 37, "align": "left", "baseline": "alphabetic", "color": "black"},
   "encoding": {
    "x": {"datum": "0", "type": "nominal", "bandPosition": -0.616, "scale": {"domain": ["0","1","2","10"], "paddingInner": 0, "paddingOuter": 0.1}},
    "y": {"datum": 1.057, "type": "quantitative", "scale": {"domain": [-0.05, 1.05], "nice": false, "zero": false}},
    "text": {"field": "label"}}}
 ]
},
{
 "width": 415, "height": 299,
 "layer": [
  {"data": {"name": "outliers"}, "transform": [{"filter": "datum.p === 'BR'"}],
   "mark": {"type": "point", "filled": false, "size": 3.5, "strokeWidth": 2, "opacity": 1},
   "encoding": {
    "x": {"field": "m", "type": "nominal", "scale": {"domain": ["0","1","2","10"], "paddingInner": 0, "paddingOuter": 0.1}, "axis": {"title": "m"}},
    "xOffset": {"field": "model", "type": "nominal", "scale": {"domain": ["BM","OU","MC+GEO","DD_lin+GEO","DD_exp+GEO"], "paddingInner": 0, "paddingOuter": 0.8}},
    "y": {"field": "w", "type": "quantitative", "scale": {"domain": [-0.05, 1.05], "nice": false, "zero": false}, "axis": {"title": null, "values": [0, 0.25, 0.5, 0.75, 1], "format": ".2f"}},
    "stroke": {"field": "model", "type": "nominal", "scale": {"domain": ["BM","OU","MC+GEO","DD_lin+GEO","DD_exp+GEO"], "range": ["#F8766D","#A3A500","#00BF7D","#00B0F6","#E76BF3"]}}}},
  {"data": {"name": "boxes"}, "transform": [{"filter": "datum.p === 'BR'"}],
   "mark": {"type": "rule", "strokeWidth": 1.4},
   "encoding": {
    "x": {"field": "m", "type": "nominal", "scale": {"domain": ["0","1","2","10"], "paddingInner": 0, "paddingOuter": 0.1}},
    "xOffset": {"field": "model", "type": "nominal", "scale": {"domain": ["BM","OU","MC+GEO","DD_lin+GEO","DD_exp+GEO"], "paddingInner": 0, "paddingOuter": 0.8}},
    "y": {"field": "lo", "type": "quantitative", "scale": {"domain": [-0.05, 1.05], "nice": false, "zero": false}},
    "y2": {"field": "hi"},
    "stroke": {"field": "model", "type": "nominal", "scale": {"domain": ["BM","OU","MC+GEO","DD_lin+GEO","DD_exp+GEO"], "range": ["#F8766D","#A3A500","#00BF7D","#00B0F6","#E76BF3"]}}}},
  {"data": {"name": "boxes"}, "transform": [{"filter": "datum.p === 'BR'"}],
   "mark": {"type": "bar", "fill": "white", "strokeWidth": 1.4},
   "encoding": {
    "x": {"field": "m", "type": "nominal", "scale": {"domain": ["0","1","2","10"], "paddingInner": 0, "paddingOuter": 0.1}},
    "xOffset": {"field": "model", "type": "nominal", "scale": {"domain": ["BM","OU","MC+GEO","DD_lin+GEO","DD_exp+GEO"], "paddingInner": 0, "paddingOuter": 0.8}},
    "y": {"field": "q1", "type": "quantitative", "scale": {"domain": [-0.05, 1.05], "nice": false, "zero": false}},
    "y2": {"field": "q3"},
    "stroke": {"field": "model", "type": "nominal", "scale": {"domain": ["BM","OU","MC+GEO","DD_lin+GEO","DD_exp+GEO"], "range": ["#F8766D","#A3A500","#00BF7D","#00B0F6","#E76BF3"]},
     "legend": {"title": "model", "orient": "none", "legendX": 985, "legendY": 204.5, "padding": 0, "titleFont": "Liberation Sans", "titleFontSize": 24, "titleFontWeight": "normal", "titleColor": "black", "titlePadding": 6, "labelFont": "Liberation Sans", "labelFontSize": 20, "labelColor": "black", "labelOffset": 8, "symbolType": "M-1.17,-1.097M1.17,1.097M-0.9,-0.62H0.9V0.62H-0.9Z M-0.9,0H0.9 M0,-0.62V-1 M0,0.62V1", "symbolSize": 1089, "symbolStrokeWidth": 1.5, "symbolFillColor": "white", "rowPadding": -5.3}}}},
  {"data": {"name": "boxes"}, "transform": [{"filter": "datum.p === 'BR'"}],
   "mark": {"type": "bar", "fillOpacity": 0, "strokeWidth": 3},
   "encoding": {
    "x": {"field": "m", "type": "nominal", "scale": {"domain": ["0","1","2","10"], "paddingInner": 0, "paddingOuter": 0.1}},
    "xOffset": {"field": "model", "type": "nominal", "scale": {"domain": ["BM","OU","MC+GEO","DD_lin+GEO","DD_exp+GEO"], "paddingInner": 0, "paddingOuter": 0.8}},
    "y": {"field": "med", "type": "quantitative", "scale": {"domain": [-0.05, 1.05], "nice": false, "zero": false}},
    "y2": {"field": "med"},
    "stroke": {"field": "model", "type": "nominal", "scale": {"domain": ["BM","OU","MC+GEO","DD_lin+GEO","DD_exp+GEO"], "range": ["#F8766D","#A3A500","#00BF7D","#00B0F6","#E76BF3"]}}}},
  {"data": {"values": [{"label": "ψ= 2"}]},
   "mark": {"type": "rule", "strokeWidth": 1.6, "color": "black"},
   "encoding": {
    "x": {"datum": "10", "type": "nominal", "bandPosition": 1.318, "scale": {"domain": ["0","1","2","10"], "paddingInner": 0, "paddingOuter": 0.1}},
    "y": {"datum": 1.015, "type": "quantitative", "scale": {"domain": [-0.05, 1.05], "nice": false, "zero": false}},
    "y2": {"datum": 0.007}}},
  {"data": {"values": [{"label": "ψ"}]},
   "mark": {"type": "text", "fontSize": 34, "fontStyle": "italic", "align": "left", "baseline": "alphabetic", "color": "black"},
   "encoding": {
    "x": {"datum": "10", "type": "nominal", "bandPosition": 1.464, "scale": {"domain": ["0","1","2","10"], "paddingInner": 0, "paddingOuter": 0.1}},
    "y": {"datum": 0.551, "type": "quantitative", "scale": {"domain": [-0.05, 1.05], "nice": false, "zero": false}},
    "text": {"field": "label"}}},
  {"data": {"values": [{"label": "= 2"}]},
   "mark": {"type": "text", "fontSize": 37, "align": "left", "baseline": "alphabetic", "color": "black", "dx": 25},
   "encoding": {
    "x": {"datum": "10", "type": "nominal", "bandPosition": 1.464, "scale": {"domain": ["0","1","2","10"], "paddingInner": 0, "paddingOuter": 0.1}},
    "y": {"datum": 0.551, "type": "quantitative", "scale": {"domain": [-0.05, 1.05], "nice": false, "zero": false}},
    "text": {"field": "label"}}}
 ]
}
]
}
